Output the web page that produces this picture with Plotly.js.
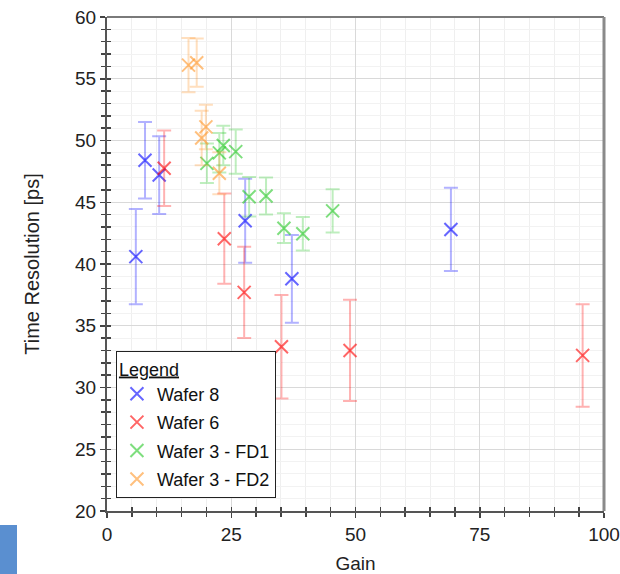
<!DOCTYPE html>
<html>
<head>
<meta charset="utf-8">
<script src="https://cdn.plot.ly/plotly-3.0.1.min.js"></script>
<style>
html,body{margin:0;padding:0;background:#fff;}
#chart{width:620px;height:574px;}
</style>
</head>
<body>
<div id="chart"></div>
<script>
// ---- data ----
const seriesNames = ["Wafer 8", "Wafer 6", "Wafer 3 - FD1", "Wafer 3 - FD2"];

const wafer8Gain = [5.8, 7.65, 10.5, 27.8, 37.2, 69.2];
const wafer8Res  = [40.6, 48.4, 47.2, 43.5, 38.8, 42.8];
const wafer8Err  = [3.85, 3.1, 3.15, 3.4, 3.55, 3.37];

const wafer6Gain = [11.5, 23.6, 27.6, 35.1, 48.9, 95.7];
const wafer6Res  = [47.75, 42.05, 37.7, 33.3, 33.0, 32.6];
const wafer6Err  = [3.05, 3.65, 3.7, 4.2, 4.1, 4.15];

const fd1Gain = [20.1, 22.6, 23.4, 25.9, 28.6, 32.0, 35.6, 39.4, 45.4];
const fd1Res  = [48.15, 49.0, 49.6, 49.1, 45.45, 45.5, 42.9, 42.45, 44.3];
const fd1Err  = [1.6, 1.6, 1.6, 1.8, 1.6, 1.5, 1.2, 1.35, 1.75];

const fd2Gain = [16.4, 18.05, 19.05, 19.9, 22.6];
const fd2Res  = [56.1, 56.3, 50.2, 51.1, 47.35];
const fd2Err  = [2.2, 1.95, 2.2, 1.8, 1.7];

const xTickVals = [0, 25, 50, 75, 100];
const yTickVals = [20, 25, 30, 35, 40, 45, 50, 55, 60];

// ---- styling ----
const rgb = ["0,0,255", "255,0,0", "40,200,40", "255,150,40"];
const FONT = "Liberation Sans, Arial, sans-serif";

function mk(name, x, y, e, c, i) {
  return {
    type: "scatter", mode: "markers", name: name, x: x, y: y,
    legendgroup: "g" + i,
    hoverinfo: "skip",
    marker: {symbol: "x-thin", size: 13, color: "rgba(" + c + ",0.6)",
             line: {width: 2, color: "rgba(" + c + ",0.6)"}},
    error_y: {type: "data", array: e, visible: true,
              color: "rgba(" + c + ",0.3)", thickness: 2, width: 7}
  };
}

const data = [
  mk(seriesNames[0], wafer8Gain, wafer8Res, wafer8Err, rgb[0], 0),
  mk(seriesNames[1], wafer6Gain, wafer6Res, wafer6Err, rgb[1], 1),
  mk(seriesNames[2], fd1Gain, fd1Res, fd1Err, rgb[2], 2),
  mk(seriesNames[3], fd2Gain, fd2Res, fd2Err, rgb[3], 3)
];

const layout = {
  width: 620, height: 574,
  margin: {l: 107, r: 16, t: 17, b: 63},
  paper_bgcolor: "#fff", plot_bgcolor: "#fff",
  font: {family: FONT, size: 18, color: "#222"},
  showlegend: true,
  legend: {
    x: 0.018, y: 0.026, xanchor: "left", yanchor: "bottom",
    bgcolor: "#fff", bordercolor: "#222", borderwidth: 1,
    font: {family: FONT, size: 18, color: "#111"},
    title: {text: "<u>Legend</u>", font: {family: FONT, size: 18, color: "#111"}},
    itemwidth: 30, traceorder: "grouped", tracegroupgap: 2
  },
  xaxis: {
    range: [0, 100], tickvals: xTickVals, ticktext: xTickVals.map(String),
    ticks: "outside", ticklen: 5, tickwidth: 1.5, tickcolor: "#444",
    showline: true, linecolor: "#555", linewidth: 2,
    showgrid: true, gridcolor: "#d9d9d9", gridwidth: 1, zeroline: false,
    tickfont: {family: FONT, size: 19, color: "#222"},
    minor: {dtick: 5, ticks: "outside", ticklen: 4, tickcolor: "#444", showgrid: true, gridcolor: "#efefef"},
    title: {text: "Gain", font: {family: FONT, size: 19, color: "#222"}, standoff: 24},
    fixedrange: true
  },
  yaxis: {
    range: [20, 60], tickvals: yTickVals, ticktext: yTickVals.map(String),
    ticks: "outside", ticklen: 5, tickwidth: 1.5, tickcolor: "#444",
    showline: true, linecolor: "#555", linewidth: 2,
    showgrid: true, gridcolor: "#d9d9d9", gridwidth: 1, zeroline: false,
    tickfont: {family: FONT, size: 19, color: "#222"},
    minor: {dtick: 1, ticks: "outside", ticklen: 4, tickcolor: "#444", showgrid: true, gridcolor: "#f2f2f2"},
    title: {text: "Time Resolution [ps]", font: {family: FONT, size: 20, color: "#222"}, standoff: 30},
    fixedrange: true
  },
  xaxis2: {
    overlaying: "x", anchor: "y", matches: "x", range: [0, 100],
    tickvals: xTickVals, showticklabels: false, ticks: "inside", ticklen: 4, tickwidth: 1.5, tickcolor: "#444",
    minor: {dtick: 5, ticks: "inside", ticklen: 4, tickcolor: "#444"},
    showgrid: false, zeroline: false, showline: false, fixedrange: true
  },
  yaxis2: {
    overlaying: "y", anchor: "x", matches: "y", range: [20, 60],
    tickvals: yTickVals, showticklabels: false, ticks: "inside", ticklen: 4, tickwidth: 1.5, tickcolor: "#444",
    minor: {dtick: 1, ticks: "inside", ticklen: 4, tickcolor: "#444"},
    showgrid: false, zeroline: false, showline: false, fixedrange: true
  },
  shapes: [
    {type: "line", xref: "paper", yref: "paper", x0: 0, x1: 1, y0: 1, y1: 1,
     line: {color: "#7a7a7a", width: 2}},
    {type: "line", xref: "paper", yref: "paper", x0: 1, x1: 1, y0: 0, y1: 1,
     line: {color: "#8a8a8a", width: 3}},
    {type: "rect", xref: "paper", yref: "paper", x0: -0.2153, x1: -0.1811, y0: -0.1275, y1: -0.0283,
     fillcolor: "#5a8fd0", line: {width: 0}, layer: "above"}
  ]
};

// empty trace so the overlay axes carrying the inward ticks are drawn
data.push({type: "scatter", x: [], y: [], xaxis: "x2", yaxis: "y2", showlegend: false, hoverinfo: "skip"});

Plotly.newPlot("chart", data, layout, {displayModeBar: false, staticPlot: true});
</script>
</body>
</html>
